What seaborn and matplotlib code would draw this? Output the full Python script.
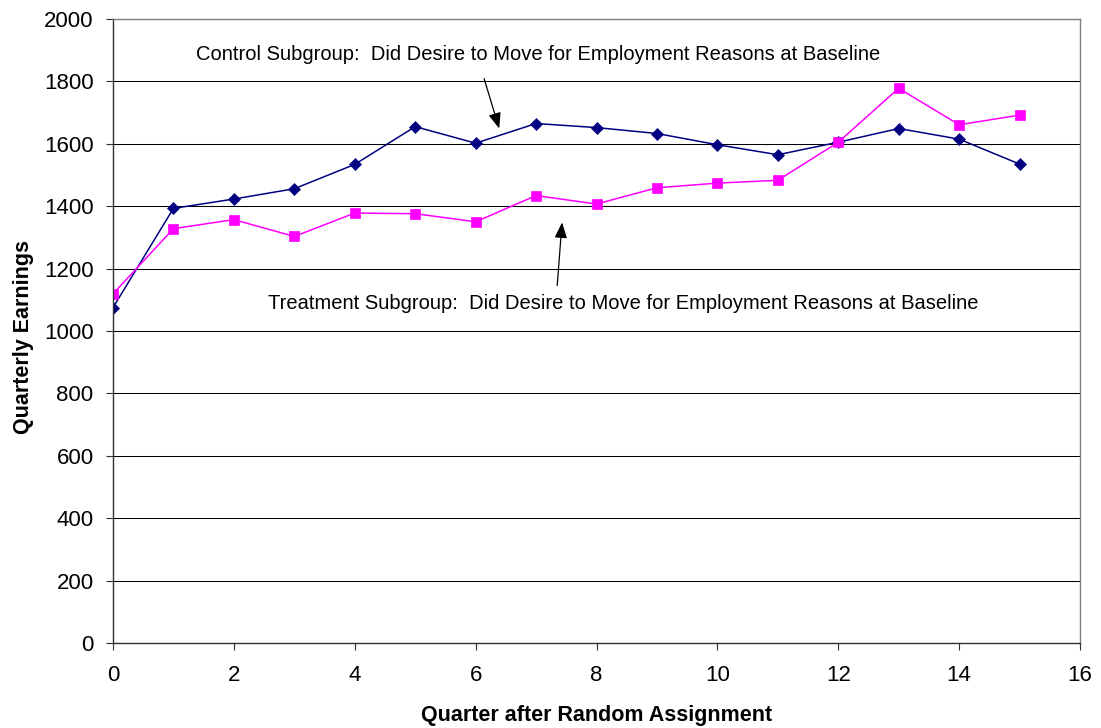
import matplotlib
matplotlib.use("Agg")
import matplotlib.pyplot as plt
import seaborn as sns
import pandas as pd

quarters = list(range(16))
control = [1075, 1393, 1423, 1456, 1534, 1655, 1602, 1665, 1652, 1633, 1597, 1565, 1605, 1649, 1615, 1535]
treatment = [1119, 1328, 1357, 1303, 1378, 1376, 1350, 1434, 1407, 1459, 1474, 1483, 1605, 1778, 1661, 1692]

control_label = "Control Subgroup:  Did Desire to Move for Employment Reasons at Baseline"
treatment_label = "Treatment Subgroup:  Did Desire to Move for Employment Reasons at Baseline"

df = pd.DataFrame({
    "quarter": quarters * 2,
    "earnings": control + treatment,
    "group": ["Control"] * 16 + ["Treatment"] * 16,
})

sns.set_style("white")
plt.rcParams["font.family"] = ["Liberation Sans", "DejaVu Sans"]
plt.rcParams["text.color"] = "black"
plt.rcParams["axes.labelcolor"] = "black"
plt.rcParams["xtick.color"] = "black"
plt.rcParams["ytick.color"] = "black"

fig = plt.figure(figsize=(11.01, 7.28), dpi=100)
ax = fig.add_axes([113 / 1101, 85 / 728, (1080 - 113) / 1101, (643 - 19) / 728])

palette = {"Control": "#000080", "Treatment": "#FF00FF"}
markers = {"Control": "D", "Treatment": "s"}
sizes = {"Control": 6.3, "Treatment": 7.5}
for g in ["Control", "Treatment"]:
    sns.lineplot(data=df[df["group"] == g], x="quarter", y="earnings", ax=ax,
                 color=palette[g], marker=markers[g], markersize=sizes[g],
                 markeredgecolor=palette[g], markeredgewidth=0.5,
                 linewidth=1.1, legend=False)

ax.set_xlim(0, 16)
ax.set_ylim(0, 2000)
ax.set_xticks(range(0, 17, 2))
ax.set_yticks(range(0, 2001, 200))
ax.yaxis.grid(True, color="black", linewidth=0.75)
ax.set_axisbelow(True)
for side in ["top", "right"]:
    ax.spines[side].set_color("#808080")
    ax.spines[side].set_linewidth(1.0)
for side in ["left", "bottom"]:
    ax.spines[side].set_color("#303030")
    ax.spines[side].set_linewidth(1.0)
ax.tick_params(axis="both", which="major", length=5, width=0.8, color="#303030",
               direction="out", labelsize=16, left=True, bottom=True)
ax.tick_params(axis="x", pad=11)
ax.tick_params(axis="y", pad=9)

ax.set_xlabel("Quarter after Random Assignment", fontsize=15.5, fontweight="bold")
ax.xaxis.label.set_va("baseline")
ax.xaxis.set_label_coords(0.5, (643 - 721) / 624)
ax.set_ylabel("Quarterly Earnings", fontsize=15.5, fontweight="bold")
ax.yaxis.label.set_va("center")
ax.yaxis.set_label_coords((24 - 113) / 967, 0.49)

arrow_style = dict(arrowstyle="-|>,head_length=0.5,head_width=0.2", color="black",
                   lw=0.9, mutation_scale=19, shrinkA=0, shrinkB=0)
ax.text(1.373, 1867, control_label, ha="left", va="baseline", fontsize=14.5)
ax.annotate("", xy=(6.39, 1649), xytext=(6.14, 1809), arrowprops=arrow_style)
ax.text(2.565, 1069, treatment_label, ha="left", va="baseline", fontsize=14.5)
ax.annotate("", xy=(7.43, 1348), xytext=(7.35, 1146), arrowprops=arrow_style)

fig.savefig("out.png", dpi=100)
